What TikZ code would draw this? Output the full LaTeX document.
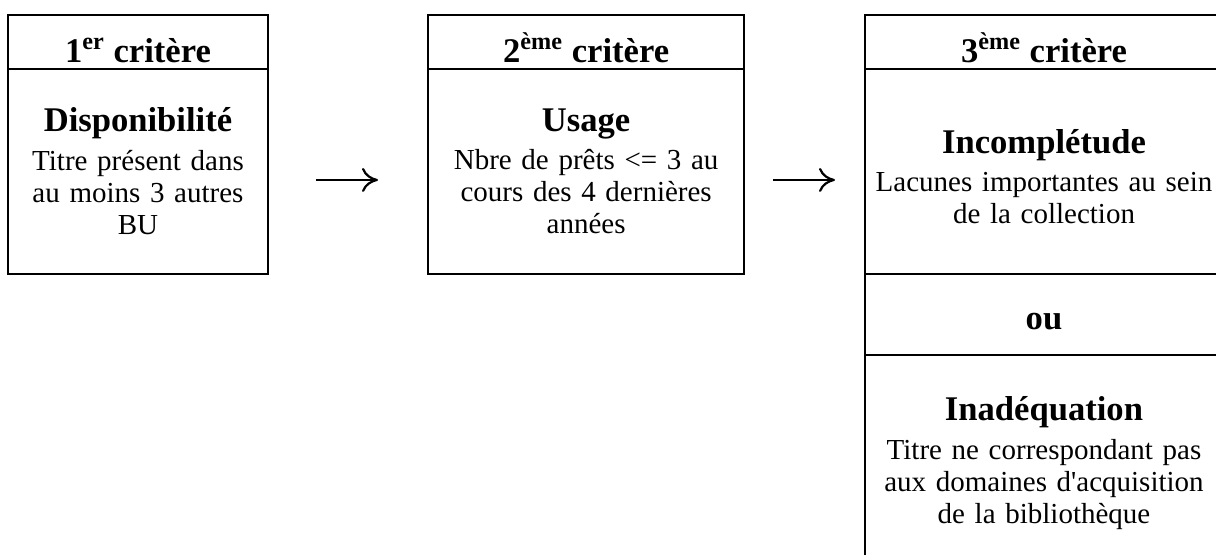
\documentclass[tikz,border=0pt]{standalone}
\usepackage{fontspec}
\setmainfont{Liberation Serif}
\usetikzlibrary{positioning,arrows.meta}
\newcommand{\bodysize}{\fontsize{14.5}{16}\selectfont}
\newcommand{\titlesize}{\fontsize{17.3}{19}\selectfont\bfseries}
\newcommand{\critname}[1]{{\titlesize #1}\\[3.25pt]}

\begin{document}
\begin{tikzpicture}[x=0.5pt,y=-0.5pt,
	cell/.style={draw, line width=1pt, outer sep=0pt, inner sep=0pt, align=center},
	head/.style={cell, minimum height=27pt, text height=20.5pt, text depth=0pt, font=\titlesize},
	body/.style={cell, font=\bodysize},
	next/.style={line width=1.1pt, -{To[length=8pt,width=12pt]}}]
	\useasboundingbox (0,0) rectangle (1216,554);
	\clip (0,0) rectangle (1216,554);

	\node[head, minimum width=129.7pt, anchor=north west] (crit1) at (8.3,15) {1\textsuperscript{er} critère};
	\node[body, minimum width=129.7pt, minimum height=102.35pt, text width=126pt, below=0pt of crit1] (dispo)
		{\critname{Disponibilité}Titre présent dans\\au moins 3 autres\\BU};

	\node[head, minimum width=158.15pt, anchor=north west] (crit2) at (428,15) {2\textsuperscript{ème} critère};
	\node[body, minimum width=158.15pt, minimum height=102.35pt, text width=154pt, below=0pt of crit2] (usage)
		{\critname{Usage}Nbre de prêts <= 3 au\\cours des 4 dernières\\années};

	\node[head, minimum width=179pt, anchor=north west] (crit3) at (865,15) {3\textsuperscript{ème} critère};
	\node[body, minimum width=179pt, minimum height=102.35pt, text width=176pt, text depth=30pt,
		below=0pt of crit3] (incompl)
		{\critname{Incomplétude}Lacunes importantes au sein\\de la collection};
	\node[cell, minimum width=179pt, minimum height=40.65pt, text height=15pt, text depth=0pt,
		font=\titlesize, below=0pt of incompl] (ou) {ou};
	\node[body, minimum width=179pt, minimum height=108pt, text width=176pt, below=0pt of ou] (inadeq)
		{\critname{Inadéquation}Titre ne correspondant pas\\aux domaines d\textquotesingle acquisition\\de la bibliothèque};

	\draw[next, shorten <=24pt, shorten >=25pt] ([yshift=-4.3pt]dispo.east) -- ([yshift=-4.3pt]usage.west);
	\draw[next, shorten <=14.35pt, shorten >=15pt] ([yshift=-4.3pt]usage.east) -- ([yshift=-4.3pt]incompl.west);
\end{tikzpicture}
\end{document}
